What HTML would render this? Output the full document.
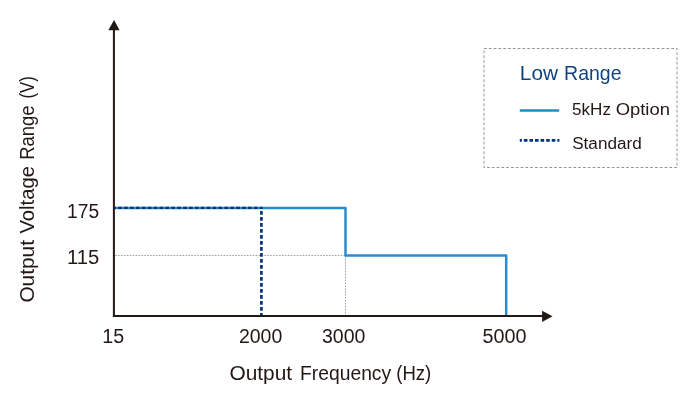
<!DOCTYPE html>
<html lang="en">
<head>
<meta charset="utf-8">
<title>Output Voltage Range vs Output Frequency - Low Range</title>
<style>
html,body{margin:0;padding:0;background:#fff;}
body{width:700px;height:400px;overflow:hidden;font-family:"Liberation Sans",sans-serif;}
svg{display:block;}
text{font-family:"Liberation Sans",sans-serif;fill:#231815;}
</style>
</head>
<body>
<svg width="700" height="400" viewBox="0 0 700 400">
  <rect width="700" height="400" fill="#ffffff"/>

  <!-- guide dotted lines -->
  <g fill="none" stroke="#a6a6a6" stroke-width="1" stroke-dasharray="1.7 1.23">
    <line x1="115" y1="255.5" x2="345" y2="255.5"/>
    <line x1="345.5" y1="256" x2="345.5" y2="315"/>
  </g>

  <!-- 5kHz option -->
  <polyline fill="none" stroke="#2b8ccd" stroke-width="2.5" stroke-linejoin="round"
    points="114,208 345.5,208 345.5,255.5 506.2,255.5 506.2,316"/>

  <!-- standard -->
  <g fill="none" stroke="#04347a" stroke-width="2.5">
    <line x1="115" y1="207.85" x2="262.7" y2="207.85" stroke-width="2.2" stroke-dasharray="3.7 2.2" stroke-dashoffset="2.7"/>
    <line x1="261.4" y1="209" x2="261.4" y2="315.2" stroke-width="2.7" stroke-dasharray="3.6 2.4" stroke-dashoffset="3.97"/>
  </g>

  <!-- axes -->
  <g stroke="#231815" stroke-width="2" fill="none">
    <line x1="113.9" y1="29" x2="113.9" y2="317.1"/>
    <line x1="112.9" y1="316.1" x2="543" y2="316.1"/>
  </g>
  <polygon points="114.1,20 108.3,30.3 119.6,30.3" fill="#231815"/>
  <polygon points="552.5,316.3 542.1,310.7 542.1,321.9" fill="#231815"/>

  <!-- y tick labels -->
  <text y="217.8" font-size="19.5" style="fill:#231815"><tspan x="67.11" textLength="32.01" lengthAdjust="spacingAndGlyphs">175</tspan></text>
  <text y="263.8" font-size="19.5" style="fill:#231815"><tspan x="67.08" textLength="32.22" lengthAdjust="spacingAndGlyphs">115</tspan></text>
  <!-- x tick labels -->
  <text y="343.1" font-size="19.5" style="fill:#231815"><tspan x="102.25" textLength="21.92" lengthAdjust="spacingAndGlyphs">15</tspan></text>
  <text y="343.1" font-size="19.5" style="fill:#231815"><tspan x="238.95" textLength="43.37" lengthAdjust="spacingAndGlyphs">2000</tspan></text>
  <text y="343.1" font-size="19.5" style="fill:#231815"><tspan x="322.00" textLength="43.34" lengthAdjust="spacingAndGlyphs">3000</tspan></text>
  <text y="343.1" font-size="19.5" style="fill:#231815"><tspan x="482.43" textLength="43.98" lengthAdjust="spacingAndGlyphs">5000</tspan></text>
  <!-- axis titles -->
  <text y="379.9" font-size="19.3" style="fill:#231815"><tspan x="229.43" textLength="62.66" lengthAdjust="spacingAndGlyphs">Output</tspan> <tspan x="299.99" textLength="91.19" lengthAdjust="spacingAndGlyphs">Frequency</tspan> <tspan x="396.23" textLength="35.03" lengthAdjust="spacingAndGlyphs">(Hz)</tspan></text>
  <text transform="translate(34.2 0) rotate(-90)" y="0" font-size="19.3" style="fill:#231815"><tspan x="-302.59" textLength="62.54" lengthAdjust="spacingAndGlyphs">Output</tspan> <tspan x="-233.60" textLength="67.57" lengthAdjust="spacingAndGlyphs">Voltage</tspan> <tspan x="-159.78" textLength="54.26" lengthAdjust="spacingAndGlyphs">Range</tspan> <tspan x="-98.49" textLength="22.35" lengthAdjust="spacingAndGlyphs">(V)</tspan></text>
  <!-- legend text -->
  <text y="80.2" font-size="20.9" style="fill:#104480"><tspan x="519.85" textLength="38.18" lengthAdjust="spacingAndGlyphs">Low</tspan> <tspan x="564.07" textLength="57.46" lengthAdjust="spacingAndGlyphs">Range</tspan></text>
  <text y="114.9" font-size="17.2" style="fill:#231815"><tspan x="572.00" textLength="38.99" lengthAdjust="spacingAndGlyphs">5kHz</tspan> <tspan x="615.67" textLength="54.29" lengthAdjust="spacingAndGlyphs">Option</tspan></text>
  <text y="148.7" font-size="17.3" style="fill:#231815"><tspan x="572.20" textLength="69.53" lengthAdjust="spacingAndGlyphs">Standard</tspan></text>

  <!-- legend -->
  <rect x="484" y="48.5" width="193" height="119" fill="none" stroke="#959595" stroke-width="1" stroke-dasharray="2.8 2.0"/>
  <line x1="519.8" y1="110.45" x2="559.2" y2="110.45" stroke="#1f8ec0" stroke-width="2.6"/>
  <line x1="519.8" y1="140.45" x2="559.4" y2="140.45" stroke="#04347a" stroke-width="2.8" stroke-dasharray="3.6 1.97" stroke-dashoffset="1.5"/>
</svg>
</body>
</html>
